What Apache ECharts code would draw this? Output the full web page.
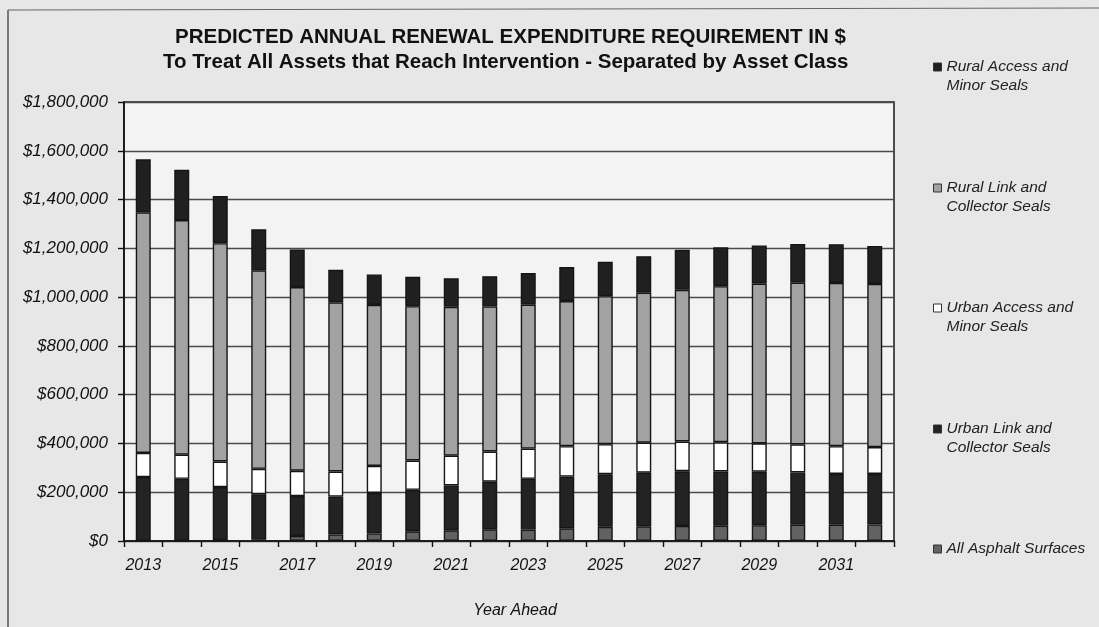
<!DOCTYPE html>
<html>
<head>
<meta charset="utf-8">
<script src="https://cdn.jsdelivr.net/npm/echarts@6/dist/echarts.min.js"></script>
<style>
  html, body { margin: 0; padding: 0; background: #e7e7e7; }
  #chart { width: 1099px; height: 627px; }
</style>
</head>
<body>
<div id="chart"></div>
<script>
// Years on the horizontal axis
const years = ['2013', '2014', '2015', '2016', '2017', '2018', '2019', '2020', '2021', '2022',
               '2023', '2024', '2025', '2026', '2027', '2028', '2029', '2030', '2031', '2032'];

// Annual renewal expenditure by asset class ($), stacked bottom to top
const allAsphalt  = [0, 0, 2000, 5000, 21000, 27000, 31000, 40000, 44000, 48000,
                     47000, 52000, 58000, 60000, 62000, 63000, 65000, 67000, 67000, 68000];
const urbanLink   = [262000, 255000, 219000, 187000, 163000, 155000, 166000, 170000, 184000, 195000,
                     208000, 212000, 216000, 220000, 224000, 222000, 219000, 214000, 208000, 207000];
const urbanAccess = [99000, 99000, 105000, 104000, 104000, 103000, 111000, 120000, 122000, 124000,
                     124000, 125000, 123000, 123000, 122000, 120000, 116000, 115000, 114000, 110000];
const ruralLink   = [987000, 962000, 895000, 814000, 753000, 694000, 660000, 633000, 610000, 595000,
                     590000, 595000, 607000, 615000, 622000, 640000, 655000, 663000, 669000, 669000];
const ruralAccess = [217000, 206000, 194000, 168000, 154000, 133000, 125000, 120000, 117000, 124000,
                     130000, 139000, 141000, 150000, 164000, 159000, 157000, 159000, 159000, 156000];

// Series names (legend text)
const nameRuralAccess = 'Rural Access and\nMinor Seals';
const nameRuralLink   = 'Rural Link and\nCollector Seals';
const nameUrbanAccess = 'Urban Access and\nMinor Seals';
const nameUrbanLink   = 'Urban Link and\nCollector Seals';
const nameAsphalt     = 'All Asphalt Surfaces';

// Title lines
const titleLine1 = 'PREDICTED ANNUAL RENEWAL EXPENDITURE REQUIREMENT IN $';
const titleLine2 = 'To Treat All Assets that Reach Intervention - Separated by Asset Class';

// Y axis range
const yMin = 0, yMax = 1800000, yStep = 200000;

const FONT = '"Liberation Sans", Arial, Helvetica, sans-serif';

const chart = echarts.init(document.getElementById('chart'), null, { renderer: 'canvas' });

function money(v) {
  return '$' + Math.round(v).toLocaleString('en-US');
}

function barSeries(name, data, color) {
  return {
    name: name,
    type: 'bar',
    stack: 'total',
    data: data,
    barWidth: 15,
    itemStyle: { color: color, borderColor: '#151515', borderWidth: 1.4 },
    emphasis: { disabled: true }
  };
}

// One legend block per series down the right-hand side; the marker sits
// beside the first line of each two-line label (a blank line above balances it).
const LH = 19;
const legendRows = [
  { name: nameRuralAccess, y: 67 },
  { name: nameRuralLink,   y: 188 },
  { name: nameUrbanAccess, y: 308 },
  { name: nameUrbanLink,   y: 429 },
  { name: nameAsphalt,     y: 549 }
];
const legends = legendRows.map(r => {
  const twoLine = r.name.indexOf('\n') >= 0;
  return {
    data: [r.name],
    orient: 'vertical',
    left: 933,
    top: twoLine ? r.y - LH * 1.5 : r.y - LH / 2,
    padding: 0,
    icon: 'rect',
    itemWidth: 8,
    itemHeight: 8,
    selectedMode: false,
    formatter: n => (n.indexOf('\n') >= 0 ? ' \n' + n : n),
    itemStyle: { borderWidth: 1, borderColor: '#333' },
    textStyle: {
      fontFamily: FONT,
      fontStyle: 'italic',
      fontSize: 15.5,
      color: '#222',
      lineHeight: LH
    }
  };
});

const titleStyle = {
  fontFamily: FONT,
  fontWeight: 'bold',
  fontSize: 20.5,
  lineHeight: 25,
  color: '#111'
};

const option = {
  backgroundColor: '#e7e7e7',
  animation: false,
  title: [
    { text: titleLine1, left: 175, top: 25, padding: 0, textStyle: titleStyle },
    { text: titleLine2, left: 163, top: 50, padding: 0, textStyle: titleStyle }
  ],
  legend: legends,
  grid: {
    left: 124,
    right: 205,
    top: 102,
    bottom: 86,
    show: true,
    backgroundColor: '#f3f3f3',
    borderColor: '#1a1a1a',
    borderWidth: 1.5
  },
  xAxis: {
    type: 'category',
    data: years,
    name: 'Year Ahead',
    nameLocation: 'middle',
    nameGap: 62,
    nameTextStyle: {
      fontFamily: FONT, fontStyle: 'italic', fontSize: 16, color: '#111',
      padding: [0, 0, 0, 12]
    },
    axisLine: { lineStyle: { color: '#111', width: 1.6 } },
    axisTick: { show: true, interval: 0, length: 6, lineStyle: { color: '#111', width: 1.4 } },
    axisLabel: {
      interval: 1,
      margin: 17,
      fontFamily: FONT, fontStyle: 'italic', fontSize: 16, color: '#111'
    },
    splitLine: { show: false }
  },
  yAxis: {
    type: 'value',
    min: yMin,
    max: yMax,
    interval: yStep,
    axisLine: { show: true, lineStyle: { color: '#111', width: 1.6 } },
    axisTick: { show: true, length: 6, lineStyle: { color: '#111', width: 1.4 } },
    axisLabel: {
      margin: 16,
      formatter: money,
      fontFamily: FONT, fontStyle: 'italic', fontSize: 17, color: '#111'
    },
    splitLine: { show: true, lineStyle: { color: '#4a4a4a', width: 1.3 } }
  },
  graphic: [
    // outer frame of the figure
    { type: 'line', shape: { x1: 8, y1: 10, x2: 8, y2: 627 }, style: { stroke: '#555', lineWidth: 1.5 } },
    { type: 'line', shape: { x1: 8, y1: 10, x2: 1099, y2: 8 }, style: { stroke: '#666', lineWidth: 1.2 } }
  ],
  series: [
    barSeries(nameAsphalt, allAsphalt, '#626262'),
    barSeries(nameUrbanLink, urbanLink, '#232323'),
    barSeries(nameUrbanAccess, urbanAccess, '#ffffff'),
    barSeries(nameRuralLink, ruralLink, '#a2a2a2'),
    barSeries(nameRuralAccess, ruralAccess, '#202020')
  ]
};

chart.setOption(option);
</script>
</body>
</html>
